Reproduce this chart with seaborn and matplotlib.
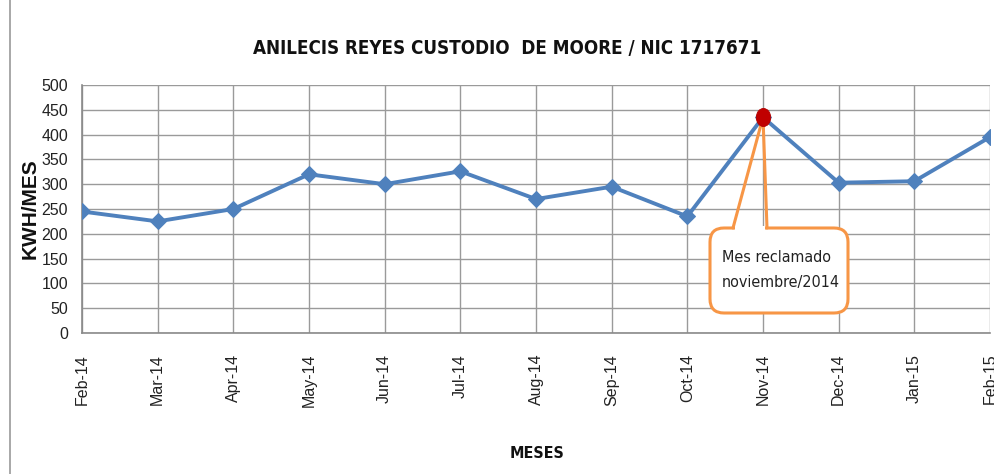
import numpy as np
import pandas as pd
import matplotlib
matplotlib.use("Agg")
import matplotlib.pyplot as plt
import seaborn as sns
from matplotlib.patches import FancyBboxPatch, Polygon
from matplotlib.lines import Line2D
from matplotlib.markers import MarkerStyle
from matplotlib.transforms import Affine2D

months = ["Feb-14", "Mar-14", "Apr-14", "May-14", "Jun-14", "Jul-14", "Aug-14",
          "Sep-14", "Oct-14", "Nov-14", "Dec-14", "Jan-15", "Feb-15"]
kwh = [245, 225, 250, 320, 300, 326, 270, 295, 235, 435, 303, 306, 395]
highlight_month = "Nov-14"
y_ticks = list(range(0, 501, 50))
title = "ANILECIS REYES CUSTODIO  DE MOORE / NIC 1717671"
callout_text = "Mes reclamado\nnoviembre/2014"

sns.set_style("white")
plt.rcParams["font.family"] = ["Liberation Sans", "DejaVu Sans"]

W, H = 995, 474
fig = plt.figure(figsize=(W / 100, H / 100), dpi=100)
L, R, T, B = 82, 990, 85, 333
ax = fig.add_axes([L / W, 1 - B / H, (R - L) / W, (B - T) / H])

df = pd.DataFrame({"pos": np.arange(len(months)), "kwh": kwh, "month": months})
sns.lineplot(data=df, x="pos", y="kwh", ax=ax, color="#4F81BD", linewidth=2.8,
             marker="D", markersize=8, markeredgecolor="#4F81BD", zorder=3)
hl = df[df["month"] == highlight_month]
oval = MarkerStyle("o", transform=Affine2D().scale(0.8, 1.0))
sns.lineplot(data=hl, x="pos", y="kwh", ax=ax, color="#C00000", linestyle="none",
             marker=oval, markersize=13, markeredgecolor="#B00000",
             markeredgewidth=0.6, zorder=14)

ax.set_xlim(0, len(months) - 1)
ax.set_ylim(0, 500)
ax.set_xticks(df["pos"])
ax.set_xticklabels(months, rotation=90, fontsize=11.5, color="#222222")
ax.set_yticks(y_ticks)
ax.set_yticklabels([str(v) for v in y_ticks], fontsize=11.5, color="#222222")
ax.grid(True, color="#9a9a9a", linewidth=1.0)
ax.set_axisbelow(True)
for s in ["top", "right"]:
    ax.spines[s].set_visible(False)
for s in ["left", "bottom"]:
    ax.spines[s].set_color("#8a8a8a")
    ax.spines[s].set_linewidth(1.2)
ax.tick_params(axis="both", which="major", length=6, color="#8a8a8a", width=1.2, pad=4)
ax.tick_params(axis="x", pad=9)
ax.set_xlabel("")
ax.set_ylabel("")

fig.text(507 / W, 1 - 49 / H, title, ha="center", va="center", fontsize=13.5,
         fontweight="bold", family="DejaVu Sans", fontstretch="condensed", color="#111111")
fig.text(30 / W, 1 - 209 / H, "KWH/MES", rotation=90, ha="center", va="center",
         fontsize=15, fontweight="bold", color="#111111")
fig.text(537 / W, 1 - 453 / H, "MESES", ha="center", va="center", fontsize=11.5,
         fontweight="bold", family="DejaVu Sans", fontstretch="condensed", color="#111111")
fig.add_artist(Line2D([10 / W, 10 / W], [0, 1], color="#9a9a9a", linewidth=1.2))

# callout in data coordinates
px_x = (R - L) / (len(months) - 1)
px_y = (B - T) / 500.0
def dx(p): return (p - L) / px_x
def dy(p): return (B - p) / px_y
x0, x1 = dx(710), dx(848)
y0, y1 = dy(313), dy(228)
rr = 14 / px_x
aspect = (1 / px_y) / (1 / px_x)
orange = "#F79646"
box = FancyBboxPatch((x0, y0), x1 - x0, y1 - y0,
                     boxstyle=f"round,pad=0,rounding_size={rr}",
                     mutation_aspect=aspect, fc="white", ec=orange, lw=2.2,
                     zorder=9, clip_on=False)
ax.add_patch(box)
ipos = int(hl["pos"].iloc[0])
tip = (ipos, float(hl["kwh"].iloc[0]))
bl, br = dx(733), dx(767)
gap = Polygon([(bl + 0.02, y1 - 5), (bl + 0.02, y1 + 5), (br - 0.02, y1 + 5), (br - 0.02, y1 - 5)],
              closed=True, fc="white", ec="none", zorder=10, clip_on=False)
ax.add_patch(gap)
ax.plot([bl, tip[0]], [y1, tip[1]], color=orange, lw=2.2, zorder=11, solid_capstyle="round")
ax.plot([br, tip[0]], [y1, tip[1]], color=orange, lw=2.2, zorder=11, solid_capstyle="round")
ax.text(dx(722), dy(270), callout_text, ha="left", va="center", fontsize=11.5,
        family="DejaVu Sans", fontstretch="condensed", color="#222222",
        linespacing=1.9, zorder=12)

fig.savefig("out.png", dpi=100)
